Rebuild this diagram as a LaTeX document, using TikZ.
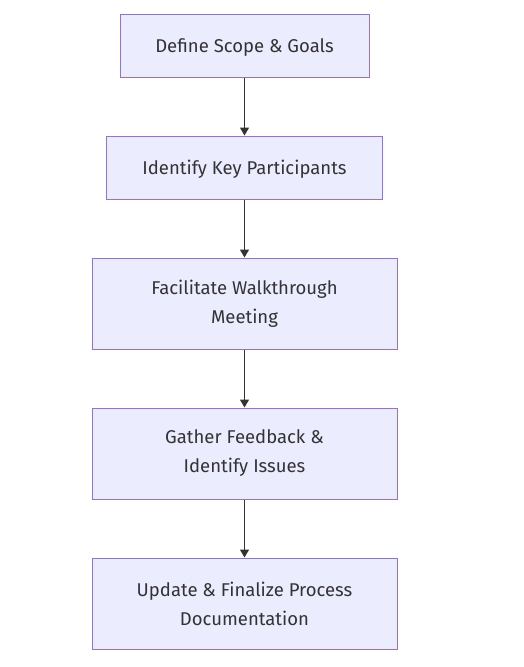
\documentclass[tikz,border=0pt]{standalone}
\usepackage{fontspec}
\usepackage{xcolor}
\usepackage{tikz}
\usetikzlibrary{arrows.meta}
\setmainfont{Fira Sans}

\definecolor{boxfill}{HTML}{ECECFF}
\definecolor{boxline}{HTML}{9370DB}
\definecolor{ink}{HTML}{333333}

\begin{document}
\begin{tikzpicture}[x=1pt, y=-1pt,
  stepbox/.style={draw=boxline, fill=boxfill, line width=1pt, inner sep=0pt,
    align=center, text=ink, font=\fontsize{18.5}{29}\selectfont},
  flow/.style={draw=ink, line width=1.4pt, -{Triangle[length=8pt,width=9pt]}}
]
  \useasboundingbox (0,0) rectangle (524,667);
  \node (S1) [stepbox, minimum width=249pt, minimum height=63pt, text depth=0pt]
    at (244.5,45.5) {Define Scope \& Goals};
  \node (S2) [stepbox, minimum width=276pt, minimum height=63pt, text depth=0pt]
    at (244.5,167.5) {Identify Key Participants};
  \node (S3) [stepbox, minimum width=305pt, minimum height=91pt]
    at (244.5,303.5) {Facilitate Walkthrough\\Meeting};
  \node (S4) [stepbox, minimum width=305pt, minimum height=91pt]
    at (244.5,453.5) {Gather Feedback \&\\Identify Issues};
  \node (S5) [stepbox, minimum width=305pt, minimum height=91pt]
    at (244.5,603.5) {Update \& Finalize Process\\Documentation};
  \draw[flow] (S1) -- (S2);
  \draw[flow] (S2) -- (S3);
  \draw[flow] (S3) -- (S4);
  \draw[flow] (S4) -- (S5);
\end{tikzpicture}
\end{document}
